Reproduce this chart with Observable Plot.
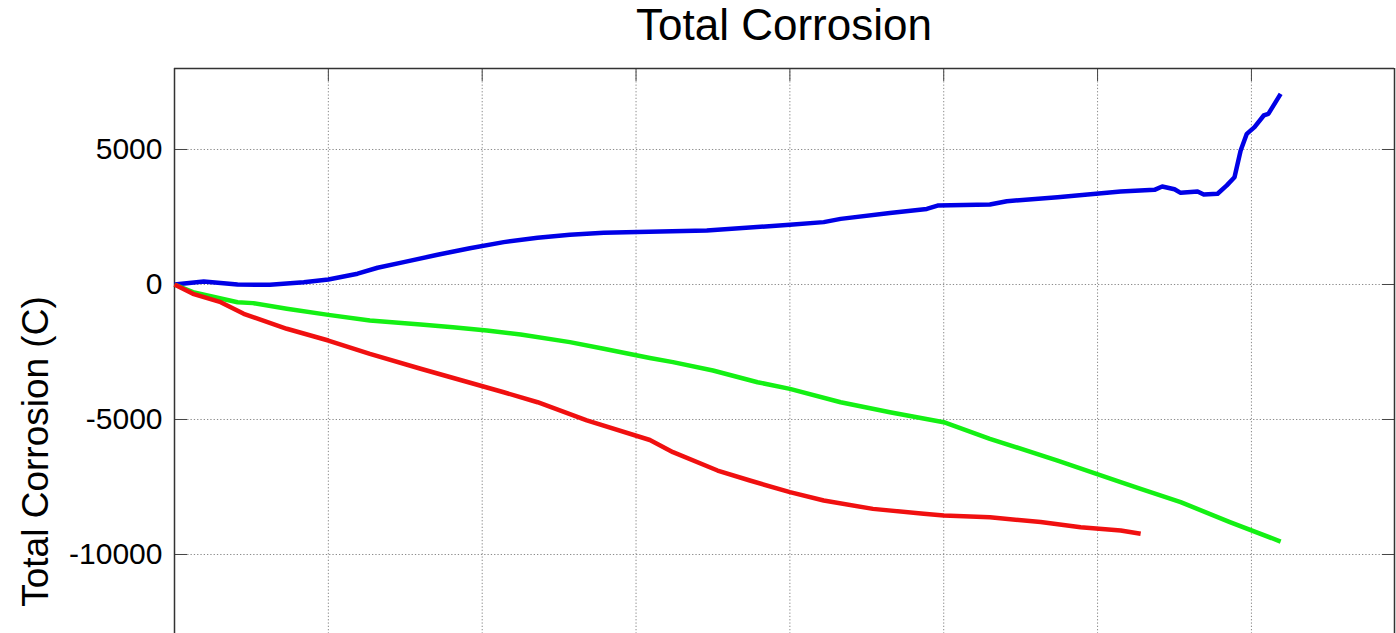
<!DOCTYPE html>
<html>
<head>
<meta charset="utf-8">
<script src="https://cdn.jsdelivr.net/npm/d3@7"></script>
<script src="https://cdn.jsdelivr.net/npm/@observablehq/plot@0.6"></script>
<style>
  html, body { margin: 0; padding: 0; background: #fff; }
  #title {
    height: 50px; line-height: 50px;
    margin-left: 174px; width: 1220px;
    text-align: center;
    font-family: "Liberation Sans", Arial, sans-serif;
    font-size: 44px; color: #000;
  }
  #chart svg { display: block; }
</style>
</head>
<body>
<div id="title">Total Corrosion</div>
<div id="chart"></div>
<script>
// ---- data ----
const titleText = "Total Corrosion";
const yLabel = "Total Corrosion (C)";
const yTicks = [5000, 0, -5000, -10000];
const xTicks = [1, 2, 3, 4, 5, 6, 7];

const blueX = [0, 0.19, 0.41, 0.62, 0.84, 1.00, 1.19, 1.32, 1.49, 1.71, 1.92, 2.14, 2.36, 2.57, 2.79, 3.01, 3.46, 4.00, 4.22, 4.33, 4.65, 4.89, 4.96, 5.30, 5.41, 5.74, 6.15, 6.37, 6.42, 6.50, 6.54, 6.65, 6.69, 6.78, 6.84, 6.89, 6.93, 6.97, 7.02, 7.08, 7.11, 7.19];
const blueY = [0, 110, 0, -10, 85, 185, 400, 620, 830, 1100, 1345, 1570, 1730, 1840, 1915, 1940, 2000, 2210, 2310, 2430, 2650, 2800, 2925, 2960, 3085, 3235, 3445, 3505, 3630, 3530, 3395, 3445, 3335, 3360, 3670, 3975, 4960, 5580, 5830, 6260, 6320, 7060];

const greenX = [0, 0.12, 0.41, 0.51, 0.73, 1.00, 1.27, 1.60, 1.81, 2.03, 2.25, 2.57, 2.79, 3.09, 3.24, 3.50, 3.79, 4.00, 4.33, 4.65, 5.00, 5.30, 5.74, 6.15, 6.28, 6.54, 6.86, 7.19];
const greenY = [0, -285, -655, -690, -900, -1125, -1335, -1480, -1580, -1700, -1850, -2135, -2380, -2720, -2875, -3185, -3620, -3865, -4360, -4730, -5100, -5715, -6520, -7320, -7570, -8060, -8800, -9520];

const redX = [0, 0.12, 0.30, 0.45, 0.73, 1.00, 1.27, 1.60, 1.87, 2.14, 2.36, 2.68, 3.09, 3.24, 3.53, 3.74, 4.00, 4.22, 4.54, 4.87, 5.00, 5.30, 5.63, 5.89, 6.15, 6.28];
const redY = [0, -345, -655, -1085, -1640, -2075, -2570, -3120, -3555, -3990, -4360, -5035, -5760, -6210, -6890, -7260, -7690, -8000, -8310, -8495, -8555, -8620, -8800, -8990, -9110, -9235];

const seriesNames = ["S1", "S2", "S3"];
const seriesColors = ["#0000e6", "#14f014", "#f01010"];

// ---- build table ----
const rows = [];
[[blueX, blueY], [greenX, greenY], [redX, redY]].forEach(([xs, ys], i) => {
  xs.forEach((x, j) => rows.push({series: seriesNames[i], x, y: ys[j]}));
});

document.getElementById("title").textContent = titleText;

const xDomain = [0, 7.93];
const yDomain = [-12926, 8000];

const chart = Plot.plot({
  width: 1396,
  height: 583,
  marginTop: 18,
  marginBottom: 0,
  marginLeft: 174,
  marginRight: 2,
  style: {fontFamily: "'Liberation Sans', Arial, sans-serif", fontSize: "30px", background: "#fff", overflow: "visible", color: "#000"},
  x: {domain: xDomain},
  y: {domain: yDomain},
  color: {domain: seriesNames, range: seriesColors},
  marks: [
    Plot.gridX({ticks: xTicks, stroke: "#8a8a8a", strokeOpacity: 1, strokeWidth: 1, strokeDasharray: "1.3,2"}),
    Plot.gridY({ticks: yTicks, stroke: "#8a8a8a", strokeOpacity: 1, strokeWidth: 1, strokeDasharray: "1.3,2"}),
    Plot.axisY({ticks: yTicks, tickSize: -13, tickPadding: 25, tickFormat: d => String(d), fontSize: 30, label: null, stroke: "#444", fill: "#000"}),
    Plot.axisY({anchor: "right", ticks: yTicks, tickSize: -13, tickFormat: () => "", label: null, stroke: "#444"}),
    Plot.axisX({anchor: "top", ticks: xTicks, tickSize: -12, tickFormat: () => "", label: null, stroke: "#444"}),
    Plot.ruleX(xDomain, {stroke: "#333", strokeWidth: 1.5}),
    Plot.ruleY([yDomain[1]], {stroke: "#333", strokeWidth: 1.5}),
    Plot.line(rows, {x: "x", y: "y", z: "series", stroke: "series", strokeWidth: 4.5, strokeLinejoin: "round", strokeLinecap: "butt"})
  ]
});

// y-axis title, rotated, placed left of the tick labels (the plot continues below the crop)
d3.select(chart).append("text")
  .attr("transform", "translate(35,401.5) rotate(-90)")
  .attr("text-anchor", "middle")
  .attr("dominant-baseline", "central")
  .attr("font-family", "'Liberation Sans', Arial, sans-serif")
  .attr("font-size", 37)
  .attr("fill", "#000")
  .text(yLabel);

document.getElementById("chart").appendChild(chart);
</script>
</body>
</html>
